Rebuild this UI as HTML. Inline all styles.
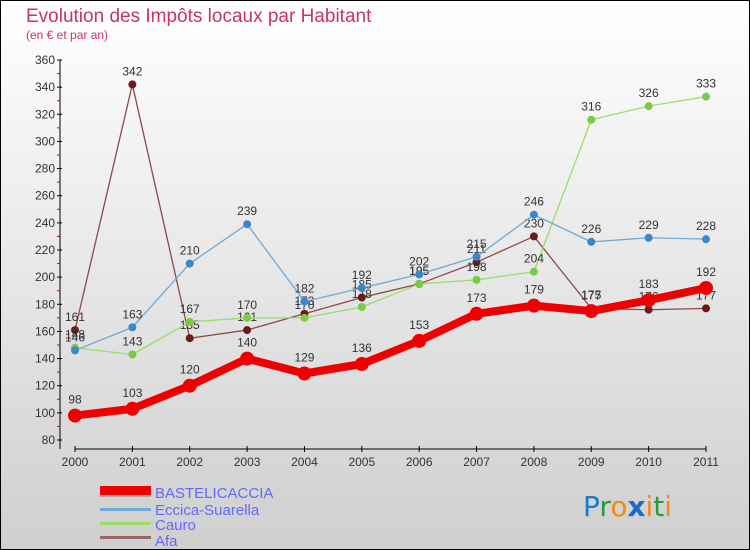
<!DOCTYPE html>
<html><head><meta charset="utf-8"><style>
body{margin:0}
#c{width:750px;height:550px;position:relative;overflow:hidden;font-family:"Liberation Sans",sans-serif}
</style></head><body>
<div id="c">
<svg id="s" width="750" height="550" xmlns="http://www.w3.org/2000/svg">
<defs><linearGradient id="bg" x1="0" y1="0" x2="0" y2="1"><stop offset="0" stop-color="#ffffff"/><stop offset="1" stop-color="#cfcfcf"/></linearGradient></defs>
<rect x="0.5" y="0.5" width="749" height="549" fill="url(#bg)" stroke="#000"/>
<text x="26" y="22" font-size="19" fill="#c8336a">Evolution des Impôts locaux par Habitant</text>
<text x="26" y="39" font-size="12" fill="#c8336a">(en € et par an)</text>
<g id="axes"></g><g id="series"></g>
<g>
<rect x="100" y="488" width="51" height="9" fill="#777" opacity="0.5"/>
<rect x="100" y="486" width="51" height="9" fill="#ee0000"/>
<text x="155" y="498" font-size="15" fill="#6666ff">BASTELICACCIA</text>
<rect x="100" y="508" width="51" height="3" fill="#6fa8d6"/>
<text x="155" y="515" font-size="15" fill="#6666ff">Eccica-Suarella</text>
<rect x="100" y="522" width="51" height="3" fill="#99dd66"/>
<text x="155" y="530" font-size="15" fill="#6666ff">Cauro</text>
<rect x="100" y="536" width="51" height="3" fill="#996666"/>
<text x="155" y="546" font-size="15" fill="#6666ff">Afa</text>
</g>
<g font-size="28" font-family="'DejaVu Sans',sans-serif">
<text x="583" y="516"><tspan fill="#1a7acc">P</tspan><tspan fill="#2a9a3a">r</tspan><tspan fill="#f08a10">o</tspan><tspan fill="#1a6acc" font-weight="bold">x</tspan><tspan fill="#f08a10">i</tspan><tspan fill="#2a9a3a">t</tspan><tspan fill="#f08a10">i</tspan></text>
</g>
</svg></div>
<script>
const years=["2000","2001","2002","2003","2004","2005","2006","2007","2008","2009","2010","2011"];
const yTicks=[80,100,120,140,160,180,200,220,240,260,280,300,320,340,360];
const bastelicaccia=[98,103,120,140,129,136,153,173,179,175,183,192];
const eccica=[146,163,210,239,182,192,202,215,246,226,229,228];
const cauro=[148,143,167,170,170,178,195,198,204,316,326,333];
const afa=[161,342,155,161,173,185,195,211,230,177,176,177];
const NS="http://www.w3.org/2000/svg";
const X=i=>75+i*(706-75)/11;
const Y=v=>440-(v-80)*(380/280);
function mk(t,a,p){const e=document.createElementNS(NS,t);for(const k in a)e.setAttribute(k,a[k]);(p||document.getElementById('series')).appendChild(e);return e;}
const ax=document.getElementById('axes');
let e=mk('line',{x1:60,y1:Y(360),x2:60,y2:449,stroke:'#000'},ax);

e=mk('line',{x1:75,y1:449,x2:706,y2:449,stroke:'#000'},ax);

yTicks.forEach((v,i)=>{
  mk('line',{x1:57,x2:62,y1:Y(v),y2:Y(v),stroke:'#000'},ax);
  if(i<yTicks.length-1)mk('line',{x1:57,x2:60,y1:Y(v+10),y2:Y(v+10),stroke:'#d00'},ax);
  const t=mk('text',{x:55,y:Y(v)+4,'text-anchor':'end','font-size':12,fill:'#333'},ax);t.textContent=v;
  
});
years.forEach((y,i)=>{
  mk('line',{x1:X(i),x2:X(i),y1:446,y2:452,stroke:'#000'},ax);
  const t=mk('text',{x:X(i),y:466,'text-anchor':'middle','font-size':12,fill:'#333'},ax);t.textContent=y;
  
});
function series(d,name,col,dot,w,r){
  const g=mk('g',{});
  
  const p=mk('polyline',{points:d.map((v,i)=>X(i)+','+Y(v)).join(' '),fill:'none',stroke:col,'stroke-width':w,'stroke-linejoin':'round'},g);
  
  d.forEach((v,i)=>{
    const c=mk('circle',{cx:X(i),cy:Y(v),r:r,fill:dot},g);
    
    const t=mk('text',{x:X(i),y:Y(v)-r-5,'text-anchor':'middle','font-size':12,fill:'#333'},g);t.textContent=v;
    
  });
}
series(afa,'afa','#8b4a4a','#6b1a1a',1.3,4);
series(cauro,'cauro','#99dd66','#77cc44',1.3,4);
series(eccica,'eccica-suarella','#6fa8d6','#3a86c8',1.3,4);
series(bastelicaccia,'bastelicaccia','#ee0000','#ee0000',8,7);
</script>
</body></html>
